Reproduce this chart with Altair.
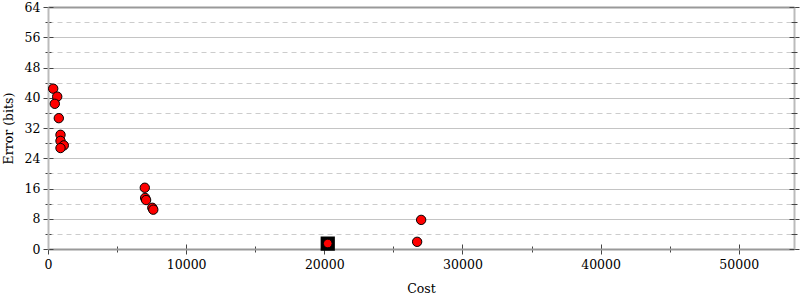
import altair as alt
import pandas as pd

# ---- data ----
cost = [376, 666, 492, 782, 905, 905, 1144, 905, 7006, 7030, 7100, 7550, 7620, 27010, 26720]
error = [42.4, 40.3, 38.4, 34.6, 30.2, 28.6, 27.4, 26.7, 16.2, 13.5, 12.95, 10.9, 10.4, 7.7, 1.9]
best_cost = [20250]
best_error = [1.45]

y_major = [0, 8, 16, 24, 32, 40, 48, 56, 64]
y_minor = [4, 12, 20, 28, 36, 44, 52, 60]
x_major = [0, 10000, 20000, 30000, 40000, 50000]
x_minor = [5000, 15000, 25000, 35000, 45000]
x_domain = [0, 54000]
y_domain = [0, 64]

FONT = "DejaVu Serif"
FS = 12.5
TICK = "#444444"

df = pd.DataFrame({"cost": cost, "error": error})
best = pd.DataFrame({"cost": best_cost, "error": best_error})

xs = alt.Scale(domain=x_domain, nice=False, zero=False)
ys = alt.Scale(domain=y_domain, nice=False, zero=False)


def hidden(xaxis, yaxis):
    return alt.Chart(df).mark_point(opacity=0).encode(
        x=alt.X("cost:Q", scale=xs, axis=xaxis),
        y=alt.Y("error:Q", scale=ys, axis=yaxis),
    )


def bare(**kw):
    base = dict(domain=False, labels=False, grid=False, ticks=True, title=None,
                tickColor=TICK, tickWidth=1)
    base.update(kw)
    return alt.Axis(**base)


grid_major = hidden(None, bare(orient="left", values=y_major, grid=True,
                               gridColor="#c4c4c4", gridWidth=1, ticks=False))
minor = hidden(
    bare(orient="bottom", values=x_minor, offset=-3, tickSize=6),
    bare(orient="left", values=y_minor, grid=True, gridColor="#cccccc",
         gridDash=[5, 4], gridWidth=1, offset=-3, tickSize=6),
)
inward = hidden(
    bare(orient="bottom", values=x_major, offset=-5, tickSize=5),
    bare(orient="left", values=y_major, offset=-5, tickSize=5),
)
frame = hidden(
    bare(orient="top", values=x_major, domain=True, domainColor="#999999",
         domainWidth=2, ticks=False),
    bare(orient="right", values=y_major, domain=True, domainColor="#bbbbbb",
         domainWidth=2, tickSize=5),
)
right_in = hidden(None, bare(orient="right", values=y_major, offset=-5, tickSize=5))
right_minor = hidden(None, bare(orient="right", values=y_minor, offset=-3, tickSize=6))

best_sq = alt.Chart(best).mark_point(shape="square", filled=True, fill="black",
                                      stroke="black", size=150, opacity=1).encode(
    x=alt.X("cost:Q", scale=xs, axis=None),
    y=alt.Y("error:Q", scale=ys, axis=None),
)
best_pt = alt.Chart(best).mark_point(shape="circle", filled=True, fill="red",
                                      stroke="black", strokeWidth=1, size=75,
                                      opacity=1).encode(
    x=alt.X("cost:Q", scale=xs, axis=None),
    y=alt.Y("error:Q", scale=ys, axis=None),
)

points = alt.Chart(df).mark_point(shape="circle", filled=True, fill="red",
                                   stroke="black", strokeWidth=1, size=88,
                                   opacity=1).encode(
    x=alt.X("cost:Q", scale=xs, title="Cost",
            axis=alt.Axis(orient="bottom", values=x_major, format="d",
                          labelFlush=False, labelBound=False, grid=False,
                          domainColor="#999999", domainWidth=2,
                          tickColor=TICK, tickSize=5, tickWidth=1,
                          labelFont=FONT, labelFontSize=FS, labelColor="black",
                          labelPadding=4, titleFont=FONT, titleFontSize=FS,
                          titleFontWeight="normal", titleColor="black",
                          titlePadding=12)),
    y=alt.Y("error:Q", scale=ys, title="Error (bits)",
            axis=alt.Axis(orient="left", values=y_major, format="d",
                          labelFlush=False, labelBound=False, grid=False,
                          domainColor="#bbbbbb", domainWidth=2,
                          tickColor=TICK, tickSize=5, tickWidth=1,
                          labelFont=FONT, labelFontSize=FS, labelColor="black",
                          labelPadding=3, titleFont=FONT, titleFontSize=FS,
                          titleFontWeight="normal", titleColor="black",
                          titlePadding=9)),
)

chart = alt.layer(
    grid_major, minor, inward, frame, right_in, right_minor, best_sq, best_pt, points
).resolve_axis(x="independent", y="independent").properties(
    width=746, height=242,
    padding={"left": 48, "top": 7, "right": 6, "bottom": 51},
    autosize=alt.AutoSizeParams(type="none"),
    background="white",
).configure_view(stroke=None)

chart.save("out.html", embed_options={"renderer": "svg", "actions": False})
